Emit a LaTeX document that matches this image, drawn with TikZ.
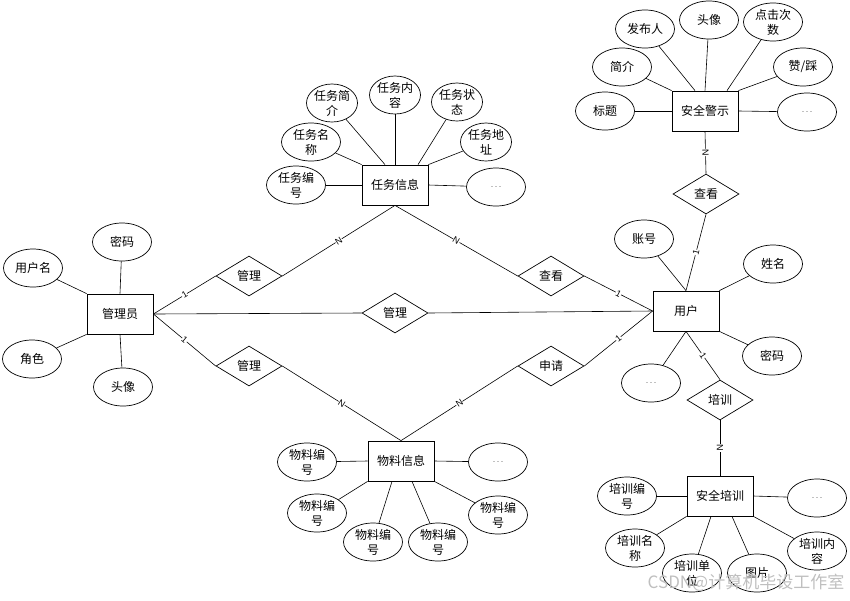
\documentclass[tikz,border=0pt]{standalone}
\usepackage{fontspec}
\setmainfont{Liberation Sans}
\newfontfamily\cjk{Noto Sans CJK SC}
\usetikzlibrary{shapes.geometric}

\begin{document}
\begin{tikzpicture}[x=1pt,y=-1pt,
    entity/.style={rectangle,draw=black,line width=0.8pt,minimum width=66pt,minimum height=40pt,inner sep=0pt,font=\fontsize{12}{15}\cjk},
    relation/.style={diamond,draw=black,line width=0.7pt,minimum width=66pt,minimum height=40pt,inner sep=0pt,font=\fontsize{12}{15}\cjk},
    attribute/.style={ellipse,draw=black,line width=0.7pt,minimum width=59pt,minimum height=38pt,inner sep=0pt,align=center,font=\fontsize{12}{15}\cjk},
    narrow_attribute/.style={attribute,minimum width=51pt},
    more_attribute/.style={attribute,font=\fontsize{9}{9}\selectfont,text=black!60},
    link/.style={black,line width=0.6pt},
    card/.style={sloped,font=\fontsize{9}{9}\selectfont,fill=white,inner sep=0.3pt},
    watermark/.style={text=black!25,font=\fontsize{17}{17}\cjk}]
  \useasboundingbox (0,0) rectangle (850,600);
% entities
\node[entity] (admin) at (120,314) {管理员};
\node[entity] (task) at (395,185) {任务信息};
\node[entity] (user) at (686,311) {用户};
\node[entity] (mat) at (401,461) {物料信息};
\node[entity] (warn) at (705,111) {安全警示};
\node[entity] (train) at (720,496) {安全培训};
% relations
\node[relation] (r1) at (249,276) {管理};
\node[relation] (r2) at (551,276) {查看};
\node[relation] (r3) at (395,313) {管理};
\node[relation] (r4) at (249,366) {管理};
\node[relation] (r5) at (551,366) {申请};
\node[relation] (r6) at (706,194) {查看};
\node[relation] (r7) at (720,400) {培训};
% attributes of 管理员
\node[attribute] (m1) at (122,242) {密码};
\node[attribute] (m2) at (33,268) {用户名};
\node[attribute] (m3) at (32,359) {角色};
\node[attribute] (m4) at (123,387) {头像};
\draw[link] (m1) -- (admin.north);
\draw[link] (m2) -- (admin.north west);
\draw[link] (m3) -- (admin.south west);
\draw[link] (m4) -- (admin.south);
% attributes of 任务信息
\node[attribute] (t1) at (296,185) {任务编\\号};
\node[attribute] (t2) at (311,142) {任务名\\称};
\node[narrow_attribute] (t3) at (332,103) {任务简\\介};
\node[narrow_attribute] (t4) at (395,95) {任务内\\容};
\node[narrow_attribute] (t5) at (457,102) {任务状\\态};
\node[narrow_attribute] (t6) at (486,142) {任务地\\址};
\node[more_attribute] (t7) at (496,187) {.\,.\,.};
\draw[link] (t1) -- (task.west);
\draw[link] (t2) -- (task.north west);
\draw[link] (t3) -- ([xshift=-10pt]task.north);
\draw[link] (t4) -- (task.north);
\draw[link] (t5) -- ([xshift=23pt]task.north);
\draw[link] (t6) -- (task.north east);
\draw[link] (t7) -- (task.east);
% attributes of 安全警示
\node[attribute] (w1) at (645,29) {发布人};
\node[attribute] (w2) at (709,20) {头像};
\node[attribute] (w3) at (773,22) {点击次\\数};
\node[attribute] (w4) at (622,67) {简介};
\node[attribute] (w5) at (803,67) {赞/踩};
\node[attribute] (w6) at (605,111) {标题};
\node[more_attribute] (w7) at (807,112) {.\,.\,.};
\draw[link] (w1) -- ([xshift=-10pt]warn.north);
\draw[link] (w2) -- (warn.north);
\draw[link] (w3) -- ([xshift=22pt]warn.north);
\draw[link] (w4) -- (warn.north west);
\draw[link] (w5) -- (warn.north east);
\draw[link] (w6) -- (warn.west);
\draw[link] (w7) -- (warn.east);
% attributes of 用户
\node[attribute] (u1) at (644,239) {账号};
\node[attribute] (u2) at (773,264) {姓名};
\node[attribute] (u3) at (772,356) {密码};
\node[more_attribute] (u4) at (651,383) {.\,.\,.};
\draw[link] (u1) -- (user.north);
\draw[link] (u2) -- (user.north east);
\draw[link] (u3) -- (user.south east);
\draw[link] (u4) -- (user.south);
% attributes of 物料信息
\node[attribute] (p1) at (307,462) {物料编\\号};
\node[attribute] (p2) at (317,513) {物料编\\号};
\node[attribute] (p3) at (373,542) {物料编\\号};
\node[attribute] (p4) at (438,542) {物料编\\号};
\node[attribute] (p5) at (498,515) {物料编\\号};
\node[more_attribute] (p6) at (498,462) {.\,.\,.};
\draw[link] (p1) -- (mat.west);
\draw[link] (p2) -- (mat.south west);
\draw[link] (p3) -- ([xshift=-9pt]mat.south);
\draw[link] (p4) -- ([xshift=11pt]mat.south);
\draw[link] (p5) -- (mat.south east);
\draw[link] (p6) -- (mat.east);
% attributes of 安全培训
\node[attribute] (s1) at (627,496) {培训编\\号};
\node[attribute] (s2) at (635,548) {培训名\\称};
\node[attribute] (s3) at (692,573) {培训单\\位};
\node[attribute] (s4) at (757,573) {图片};
\node[attribute] (s5) at (817,551) {培训内\\容};
\node[more_attribute] (s6) at (817,498) {.\,.\,.};
\draw[link] (s1) -- (train.west);
\draw[link] (s2) -- (train.south west);
\draw[link] (s3) -- ([xshift=-9pt]train.south);
\draw[link] (s4) -- ([xshift=12pt]train.south);
\draw[link] (s5) -- (train.south east);
\draw[link] (s6) -- (train.east);
% relationships
\draw[link] (admin.east) -- (r1.west) node[card,midway] {1};
\draw[link] (r1.east) -- (task.south) node[card,midway] {N};
\draw[link] (task.south) -- (r2.west) node[card,midway] {N};
\draw[link] (r2.east) -- (user.west) node[card,midway] {1};
\draw[link] (admin.east) -- (r3.west);
\draw[link] (r3.east) -- (user.west);
\draw[link] (admin.east) -- (r4.west) node[card,midway] {1};
\draw[link] (r4.east) -- (mat.north) node[card,midway] {N};
\draw[link] (mat.north) -- (r5.west) node[card,midway] {N};
\draw[link] (r5.east) -- (user.west) node[card,midway] {1};
\draw[link] (user.north) -- (r6.south) node[card,midway] {1};
\draw[link] (r6.north) -- (warn.south) node[card,midway] {N};
\draw[link] (user.south) -- (r7.north) node[card,midway] {1};
\draw[link] (r7.south) -- (train.north) node[card,midway] {N};
\node[watermark] (mark) at (746,583) {CSDN@计算机毕设工作室};
\end{tikzpicture}
\end{document}
